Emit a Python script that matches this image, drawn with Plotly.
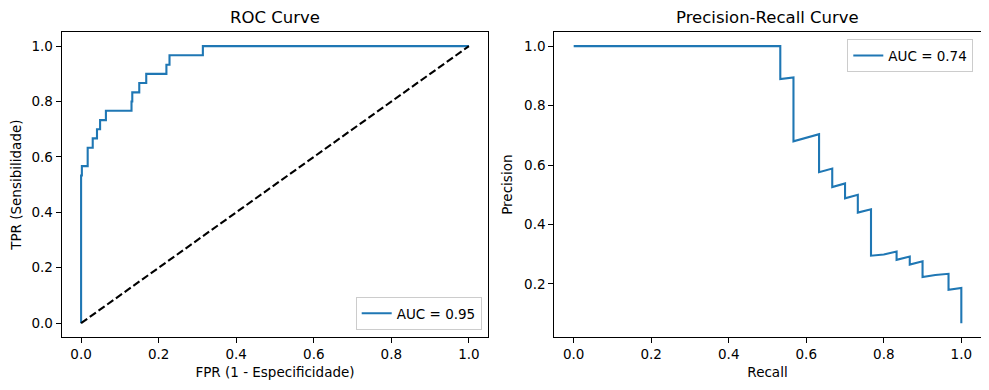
import plotly.graph_objects as go

# ROC curve data
roc_fpr = [0.0, 0.0, 0.002, 0.002, 0.017, 0.017, 0.030, 0.030, 0.041, 0.041, 0.049, 0.049,
           0.064, 0.064, 0.130, 0.130, 0.132, 0.132, 0.150, 0.150, 0.168, 0.168, 0.220, 0.220,
           0.228, 0.228, 0.314, 0.314, 1.0]
roc_tpr = [0.0, 0.533, 0.533, 0.567, 0.567, 0.633, 0.633, 0.667, 0.667, 0.700, 0.700, 0.733,
           0.733, 0.767, 0.767, 0.800, 0.800, 0.833, 0.833, 0.867, 0.867, 0.900, 0.900, 0.933,
           0.933, 0.967, 0.967, 1.0, 1.0]
diag_x = [0, 1]
diag_y = [0, 1]

# Precision-Recall data
pr_recall = [0.0, 0.533, 0.533, 0.567, 0.567, 0.633, 0.633, 0.667, 0.667, 0.700, 0.700,
             0.733, 0.733, 0.767, 0.767, 0.800, 0.833, 0.833, 0.867, 0.867, 0.900, 0.900,
             0.933, 0.967, 0.967, 1.0, 1.0]
pr_precision = [1.0, 1.0, 0.889, 0.895, 0.680, 0.704, 0.576, 0.588, 0.526, 0.538, 0.488,
                0.500, 0.440, 0.451, 0.295, 0.299, 0.309, 0.281, 0.292, 0.265, 0.276, 0.223,
                0.230, 0.234, 0.180, 0.186, 0.068]

roc_label = "AUC = 0.95"
pr_label = "AUC = 0.74"
ticks = [0.0, 0.2, 0.4, 0.6, 0.8, 1.0]
tick_text = ["0.0", "0.2", "0.4", "0.6", "0.8", "1.0"]

OFF = 8  # default page body margin
W, H = 989 - OFF, 390 - OFF
BLUE = "#1f77b4"
FONT = "DejaVu Sans"

def pad_range(vals):
    lo, hi = min(vals), max(vals)
    s = hi - lo
    return [lo - 0.05 * s, hi + 0.05 * s]

fig = go.Figure()
fig.add_trace(go.Scatter(x=roc_fpr, y=roc_tpr, mode="lines", name=roc_label,
                         line=dict(color=BLUE, width=2.1), xaxis="x", yaxis="y",
                         legend="legend"))
fig.add_trace(go.Scatter(x=diag_x, y=diag_y, mode="lines", showlegend=False,
                         line=dict(color="black", width=2.1, dash="7.5px,3.2px"),
                         xaxis="x", yaxis="y"))
fig.add_trace(go.Scatter(x=pr_recall, y=pr_precision, mode="lines", name=pr_label,
                         line=dict(color=BLUE, width=2.1), xaxis="x2", yaxis="y2",
                         legend="legend2"))

L1, R1 = 61.7 - OFF, 488.3 - OFF
L2, R2 = 554.3 - OFF, 980.7 - OFF
T, B = 32.3 - OFF, 337.0 - OFF

common = dict(showline=True, mirror=True, linecolor="black", linewidth=1.1,
              ticks="outside", ticklen=5, tickwidth=1.1, tickcolor="black",
              showgrid=False, zeroline=False, automargin=False,
              tickfont=dict(family=FONT, size=13.5, color="black"),
              tickvals=ticks, ticktext=tick_text)

fig.update_layout(
    width=W, height=H, margin=dict(l=0, r=0, t=0, b=0),
    paper_bgcolor="white", plot_bgcolor="white",
    font=dict(family=FONT, color="black"),
    xaxis=dict(domain=[L1 / W, R1 / W], range=pad_range(roc_fpr), anchor="y",
               title=dict(text="FPR (1 - Especificidade)", standoff=6,
                          font=dict(family=FONT, size=13.5)), **common),
    yaxis=dict(domain=[1 - B / H, 1 - T / H], range=pad_range(roc_tpr), anchor="x",
               title=dict(text="TPR (Sensibilidade)", standoff=8,
                          font=dict(family=FONT, size=13.5)), **common),
    xaxis2=dict(domain=[L2 / W, R2 / W], range=pad_range(pr_recall), anchor="y2",
                title=dict(text="Recall", standoff=6,
                           font=dict(family=FONT, size=13.5)), **common),
    yaxis2=dict(domain=[1 - B / H, 1 - T / H], range=pad_range(pr_precision), anchor="x2",
                title=dict(text="Precision", standoff=8,
                           font=dict(family=FONT, size=13.5)), **common),
    legend=dict(x=(481.7 - OFF) / W, y=1 - (330 - OFF) / H, xanchor="right", yanchor="bottom",
                bgcolor="rgba(255,255,255,0.8)", bordercolor="#cccccc", borderwidth=1,
                font=dict(family=FONT, size=13.5), itemwidth=30),
    legend2=dict(x=(973.3 - OFF) / W, y=1 - (39.3 - OFF) / H, xanchor="right", yanchor="top",
                 bgcolor="rgba(255,255,255,0.8)", bordercolor="#cccccc", borderwidth=1,
                 font=dict(family=FONT, size=13.5), itemwidth=30),
    annotations=[
        dict(text="ROC Curve", x=(L1 + R1) / 2 / W, y=1 - T / H, xref="paper", yref="paper",
             xanchor="center", yanchor="bottom", yshift=4, borderpad=0, showarrow=False,
             font=dict(family=FONT, size=16.5, color="black")),
        dict(text="Precision-Recall Curve", x=(L2 + R2) / 2 / W, y=1 - T / H, xref="paper",
             yref="paper", xanchor="center", yanchor="bottom", yshift=4, borderpad=0,
             showarrow=False, font=dict(family=FONT, size=16.5, color="black")),
    ],
)

fig.write_html("out.html")
